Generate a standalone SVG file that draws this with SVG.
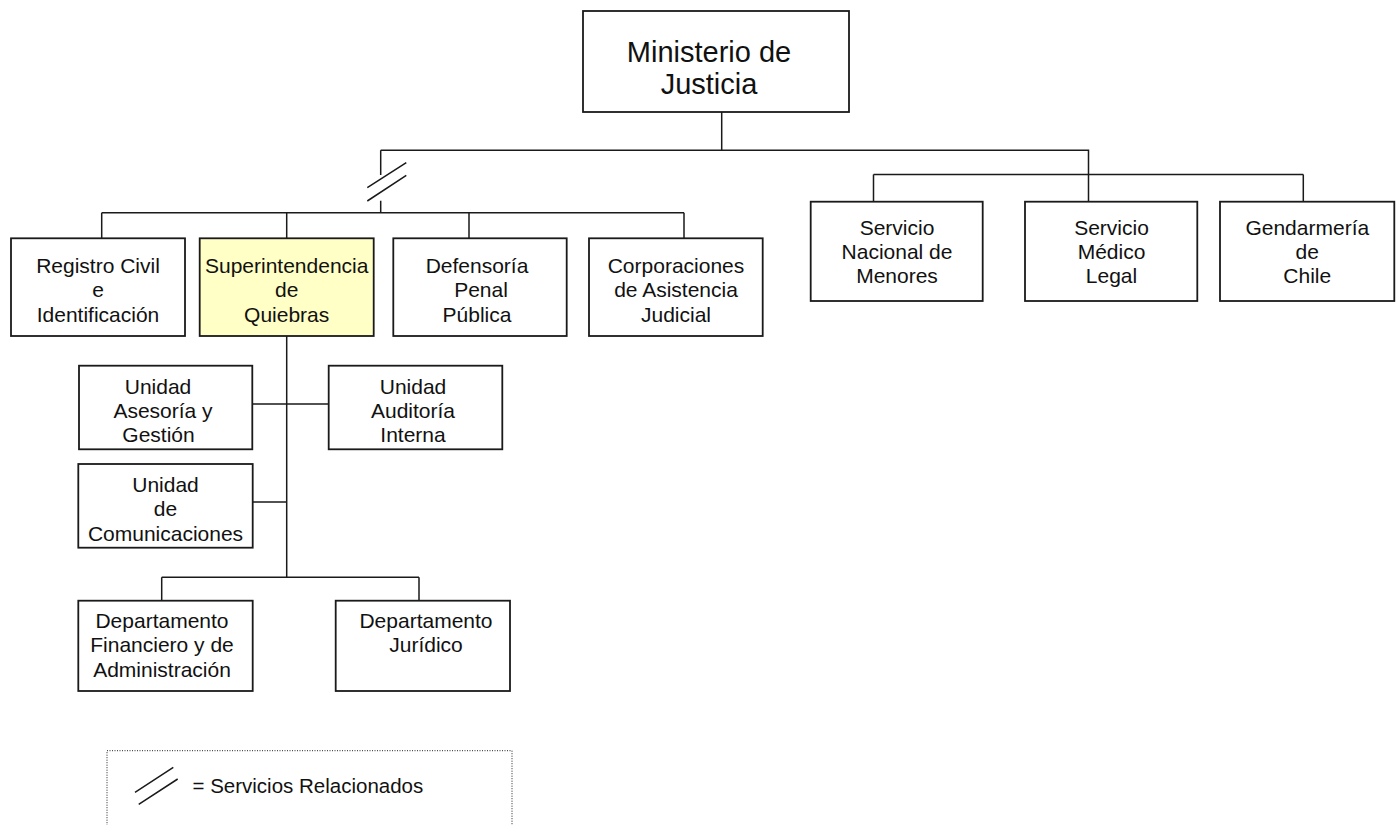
<svg xmlns="http://www.w3.org/2000/svg" width="1400" height="825" viewBox="0 0 1400 825">
<style>
.box{fill:#fff;stroke:#1a1a1a;stroke-width:1.8}
.hl{fill:#ffffc6}
.ln{fill:none;stroke:#1a1a1a;stroke-width:1.5}
text{font-family:"Liberation Sans",Arial,sans-serif;font-size:21px;fill:#111;text-anchor:middle}
.big{font-size:29px}
.leg{text-anchor:start;font-size:20.5px}
</style>
<rect width="1400" height="825" fill="#fff"/>
<g id="connectors" class="ln">
<path d="M721.7,112V150.3M380.7,150.3H1088.5V201.7"/>
<path d="M380.7,150.3V175M380.7,200.7V212.7"/>
<path d="M367.3,187.7L406.3,162.7M367.3,201L406.3,175.3"/>
<path d="M101.7,212.7H684M101.7,212.7V238.3M286.7,212.7V238.3M469,212.7V238.3M684,212.7V238.3"/>
<path d="M873.5,174.5H1303.3M873.5,174.5V201.7M1303.3,174.5V201.7"/>
<path d="M286.7,336V577.3M252.3,404H328.7M252.7,502H286.7"/>
<path d="M161.7,577.3H419M161.7,577.3V600.7M419,577.3V600.7"/>
</g>
<g id="n-ministerio"><rect class="box" x="583" y="11" width="266" height="101"/><text class="big"><tspan x="709" y="62">Ministerio de</tspan><tspan x="709" y="94">Justicia</tspan></text></g>
<g id="n-registro"><rect class="box" x="11" y="238.3" width="174" height="97.7"/><text><tspan x="98" y="272.7">Registro Civil</tspan><tspan x="98" y="297">e</tspan><tspan x="98" y="321.7">Identificación</tspan></text></g>
<g id="n-superintendencia"><rect class="box hl" x="199.7" y="238.3" width="174" height="97.7"/><text><tspan x="286.7" y="272.7">Superintendencia</tspan><tspan x="286.7" y="297">de</tspan><tspan x="286.7" y="321.7">Quiebras</tspan></text></g>
<g id="n-defensoria"><rect class="box" x="393.3" y="238.3" width="173.4" height="97.7"/><text><tspan x="477" y="272.7">Defensoría</tspan><tspan x="481" y="297">Penal</tspan><tspan x="477" y="321.7">Pública</tspan></text></g>
<g id="n-corporaciones"><rect class="box" x="589" y="238.3" width="173.7" height="97.7"/><text><tspan x="676" y="272.7">Corporaciones</tspan><tspan x="676" y="297">de Asistencia</tspan><tspan x="676" y="321.7">Judicial</tspan></text></g>
<g id="n-menores"><rect class="box" x="810.7" y="201.7" width="172" height="99.3"/><text><tspan x="897" y="234.8">Servicio</tspan><tspan x="897" y="259.2">Nacional de</tspan><tspan x="897" y="282.7">Menores</tspan></text></g>
<g id="n-medico"><rect class="box" x="1025" y="201.7" width="172.3" height="99.3"/><text><tspan x="1111.5" y="234.8">Servicio</tspan><tspan x="1111.5" y="259.2">Médico</tspan><tspan x="1111.5" y="282.7">Legal</tspan></text></g>
<g id="n-gendarmeria"><rect class="box" x="1220" y="201.7" width="174.3" height="99.3"/><text><tspan x="1307.3" y="234.8">Gendarmería</tspan><tspan x="1307.3" y="259.2">de</tspan><tspan x="1307.3" y="282.7">Chile</tspan></text></g>
<g id="n-asesoria"><rect class="box" x="79" y="365.7" width="173.3" height="83.6"/><text><tspan x="158" y="394">Unidad</tspan><tspan x="163" y="418.3">Asesoría y</tspan><tspan x="158.5" y="442">Gestión</tspan></text></g>
<g id="n-auditoria"><rect class="box" x="328.7" y="365.7" width="173.6" height="83.6"/><text><tspan x="413" y="394">Unidad</tspan><tspan x="413" y="418.3">Auditoría</tspan><tspan x="413" y="442">Interna</tspan></text></g>
<g id="n-comunicaciones"><rect class="box" x="78.3" y="464" width="174.4" height="83.7"/><text><tspan x="165.5" y="492.3">Unidad</tspan><tspan x="165.5" y="516.3">de</tspan><tspan x="165.5" y="540.7">Comunicaciones</tspan></text></g>
<g id="n-financiero"><rect class="box" x="78.3" y="600.7" width="174.4" height="90.3"/><text><tspan x="162" y="628.3">Departamento</tspan><tspan x="162" y="652.3">Financiero y de</tspan><tspan x="162" y="676.7">Administración</tspan></text></g>
<g id="n-juridico"><rect class="box" x="335.7" y="600.7" width="174.3" height="90.3"/><text><tspan x="426" y="628.3">Departamento</tspan><tspan x="426" y="652.3">Jurídico</tspan></text></g>
<g id="legend">
<rect x="107" y="750.7" width="405" height="90" fill="none" stroke="#222" stroke-width="1" stroke-dasharray="1,1.5"/>
<path class="ln" d="M135,792.3L173.3,767.3M138.7,804.3L177.7,779"/>
<text class="leg" x="192.5" y="793.3">= Servicios Relacionados</text>
</g>
</svg>
